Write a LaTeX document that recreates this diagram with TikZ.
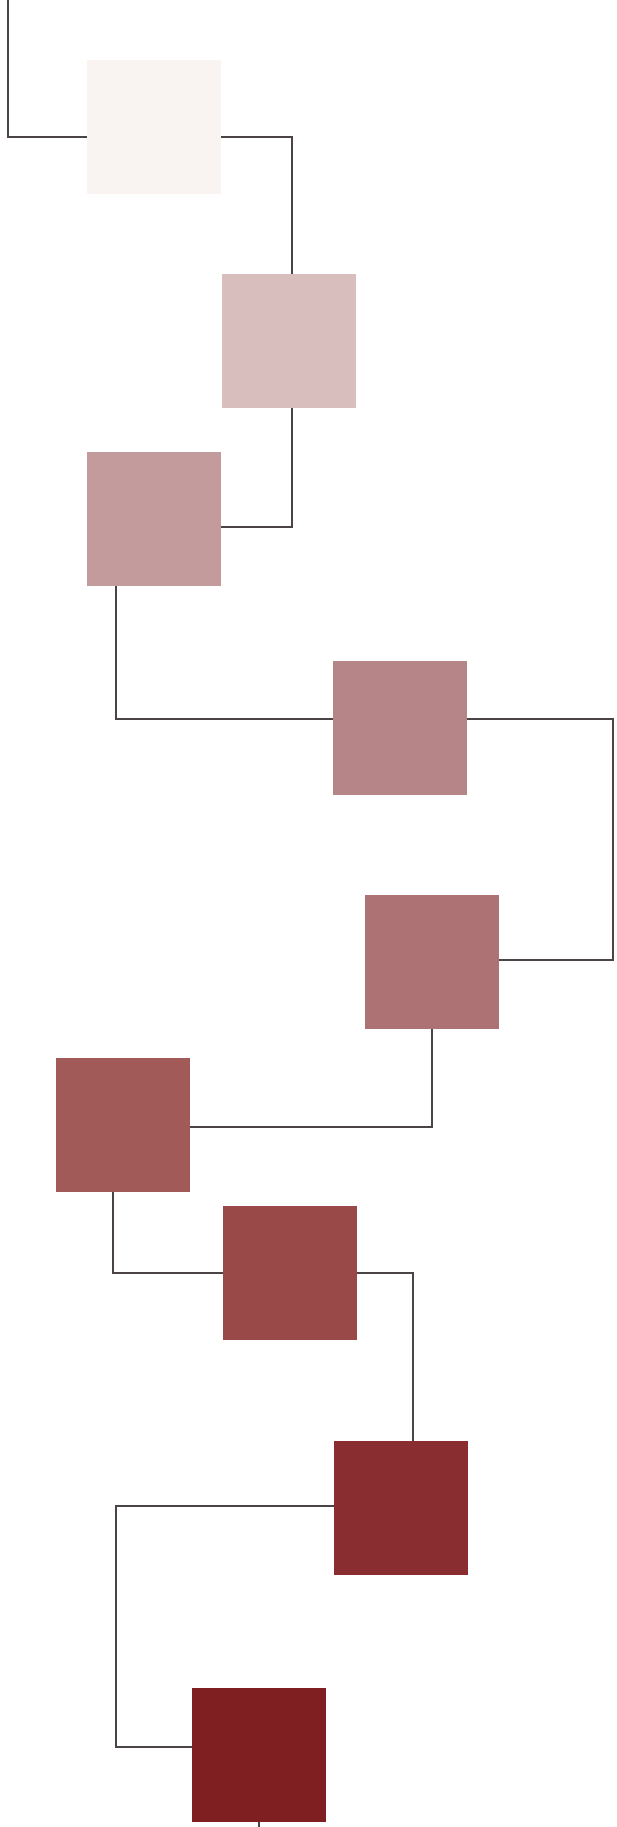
\documentclass[tikz,border=0pt]{standalone}
\usepackage{tikz}
\usetikzlibrary{positioning}

\definecolor{shadeA}{HTML}{F9F4F2}
\definecolor{shadeB}{HTML}{D9BEBE}
\definecolor{shadeC}{HTML}{C39B9C}
\definecolor{shadeD}{HTML}{B68588}
\definecolor{shadeE}{HTML}{AD7273}
\definecolor{shadeF}{HTML}{A25A59}
\definecolor{shadeG}{HTML}{994A48}
\definecolor{shadeH}{HTML}{8A2D30}
\definecolor{shadeI}{HTML}{801F22}
\definecolor{wire}{HTML}{4A4444}

\begin{document}
\begin{tikzpicture}[
  x=0.02cm, y=-0.02cm,
  tile/.style={inner sep=0pt, minimum size=2.68cm, fill=#1},
  link/.style={draw=wire, line width=0.8pt}
]
\useasboundingbox (0,0) rectangle (617,1827);

\node[tile=shadeA] (sq1) at (154,127) {};
\node[tile=shadeB] (sq2) at (289,341) {};
\node[tile=shadeC] (sq3) at (154,519) {};
\node[tile=shadeD] (sq4) at (400,728) {};
\node[tile=shadeE] (sq5) at (432,962) {};
\node[tile=shadeF] (sq6) at (123,1125) {};
\node[tile=shadeG] (sq7) at (290,1273) {};
\node[tile=shadeH] (sq8) at (401,1508) {};
\node[tile=shadeI] (sq9) at (259,1755) {};

\coordinate (start) at (8,0);
\coordinate (finish) at (259,1827);

\draw[link] (start) |- (sq1.west |- 0,137);
\draw[link] (sq1.east |- 0,137) -| (sq2.north -| 292,0);
\draw[link] (sq2.south -| 292,0) |- (sq3.east |- 0,527);
\draw[link] (sq3.south -| 116,0) |- (sq4.west |- 0,719);
\draw[link] (sq4.east |- 0,719) -- (613,719) |- (sq5.east |- 0,960);
\draw[link] (sq5.south) |- (sq6.east |- 0,1127);
\draw[link] (sq6.south -| 113,0) |- (sq7.west);
\draw[link] (sq7.east) -| (sq8.north -| 413,0);
\draw[link] (sq8.west |- 0,1506) -- (116,1506) |- (sq9.west |- 0,1747);
\draw[link] (sq9.south) -- (finish);
\end{tikzpicture}
\end{document}
